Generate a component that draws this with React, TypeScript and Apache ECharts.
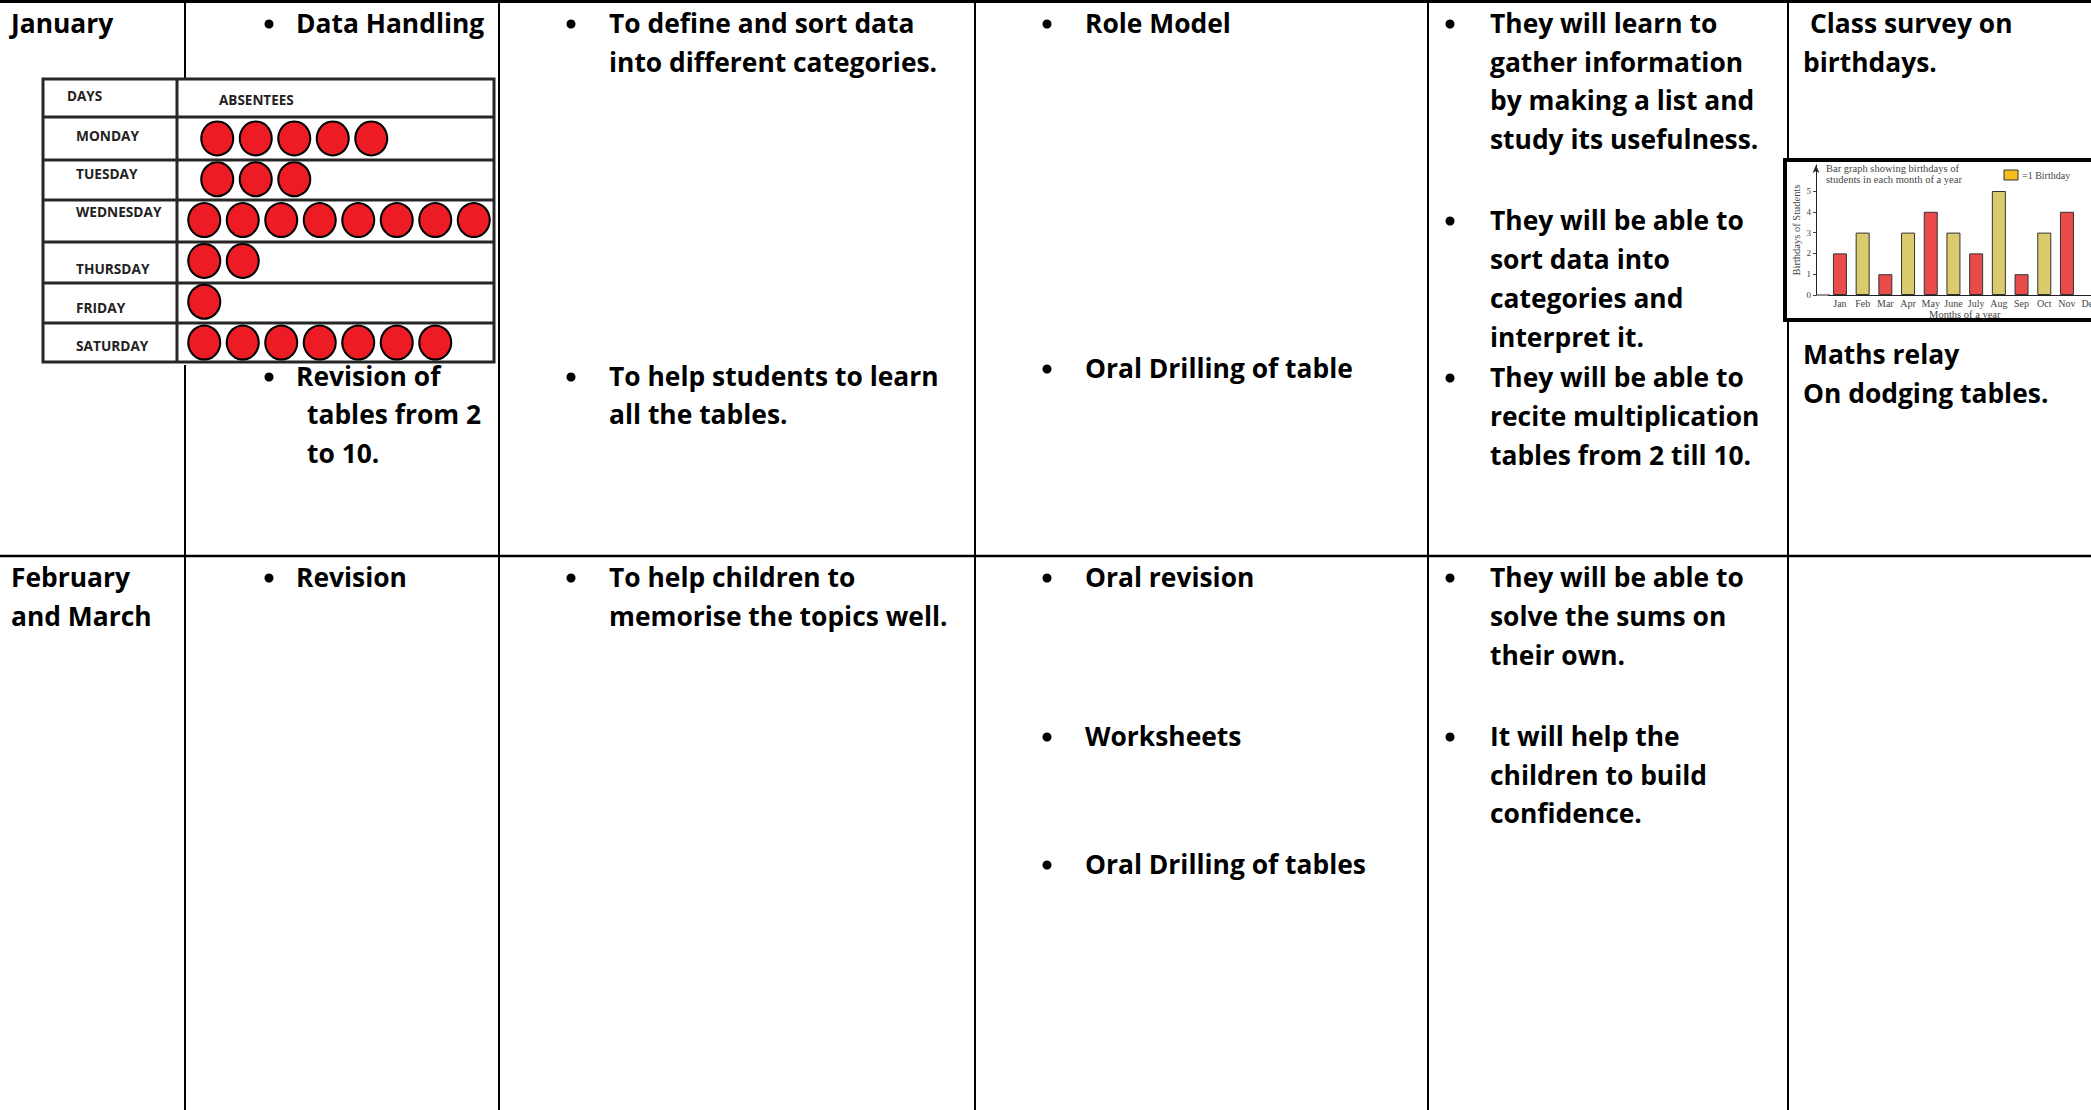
import React, { useEffect, useRef } from "react";
import * as echarts from "echarts";

// ---- pictograph data ----
const days = ["MONDAY", "TUESDAY", "WEDNESDAY", "THURSDAY", "FRIDAY", "SATURDAY"];
const absentees = [5, 3, 8, 2, 1, 7];

// ---- birthday bar graph data ----
const months = ["Jan", "Feb", "Mar", "Apr", "May", "June", "July", "Aug", "Sep", "Oct", "Nov", "Dec"];
const birthdays: (number | null)[] = [2, 3, 1, 3, 4, 3, 2, 5, 1, 3, 4, null];
const birthdayTicks = [0, 1, 2, 3, 4, 5];

const MAIN_FONT = "Open Sans";
const SERIF = "Liberation Serif";

function txt(x: number, y: number, text: string, opt: any = {}) {
  return {
    type: "text",
    z: 5,
    silent: true,
    style: {
      x,
      y,
      text,
      fill: opt.fill || "#000",
      fontFamily: opt.fontFamily || MAIN_FONT,
      fontWeight: opt.fontWeight || "bold",
      fontSize: opt.fontSize || 26.4,
      align: opt.align || "left",
      verticalAlign: "middle",
    },
  };
}

function bullet(x: number, y: number) {
  return { type: "circle", z: 5, silent: true, shape: { cx: x, cy: y + 1, r: 4.5 }, style: { fill: "#000" } };
}

function vline(x: number, y1: number, y2: number, w = 2, color = "#000", z = 0) {
  return { type: "line", z, silent: true, shape: { x1: x, y1, x2: x, y2 }, style: { stroke: color, lineWidth: w } };
}
function hline(y: number, x1: number, x2: number, w = 2, color = "#000", z = 0) {
  return { type: "line", z, silent: true, shape: { x1, y1: y, x2, y2: y }, style: { stroke: color, lineWidth: w } };
}

function buildTableGraphics() {
  const g: any[] = [];
  // table grid
  g.push(hline(1.5, 0, 2091, 3));
  g.push(hline(556, 0, 2091, 2.5));
  [185, 499, 975, 1428, 1788].forEach((x) => g.push(vline(x, 0, 1110, 2)));

  // backgrounds of embedded pictures
  g.push({ type: "rect", z: 1, silent: true, shape: { x: 40, y: 80, width: 458, height: 285 }, style: { fill: "#fff" } });
  g.push({
    type: "rect",
    z: 1,
    silent: true,
    shape: { x: 1785, y: 160, width: 330, height: 160 },
    style: { fill: "#fff", stroke: "#000", lineWidth: 4 },
  });

  // pictograph frame
  const fc = "#262626";
  g.push({ type: "rect", z: 3, silent: true, shape: { x: 43, y: 79, width: 451, height: 283 }, style: { fill: "none", stroke: fc, lineWidth: 3 } });
  g.push(vline(177, 79, 362, 3, fc, 3));
  [117, 160, 200, 242, 283, 323].forEach((y) => g.push(hline(y, 43, 494, 3, fc, 3)));
  g.push(txt(67, 96, "DAYS", { fontSize: 13.5, fill: "#222" }));
  g.push(txt(219, 100, "ABSENTEES", { fontSize: 13.5, fill: "#222" }));
  // day labels sit where they were typed in the original picture (not centred in rows)
  const dayLabelY = [135, 173, 211, 268, 307, 345];
  days.forEach((d, i) => g.push(txt(76, dayLabelY[i], d, { fontSize: 13.7, fill: "#222" })));

  // column 1
  g.push(txt(11, 23, "January"));
  g.push(txt(11, 577, "February"));
  g.push(txt(11, 616, "and March"));

  // column 2
  g.push(bullet(269, 23), txt(296, 23, "Data Handling"));
  g.push(bullet(269, 376), txt(296, 376, "Revision of"));
  g.push(txt(307, 414, "tables from 2"), txt(307, 453, "to 10."));
  g.push(bullet(269, 577), txt(296, 577, "Revision"));

  // column 3
  g.push(bullet(571, 23), txt(609, 23, "To define and sort data"), txt(609, 62, "into different categories."));
  g.push(bullet(571, 376), txt(609, 376, "To help students to learn"), txt(609, 414, "all the tables."));
  g.push(bullet(571, 577), txt(609, 577, "To help children to"), txt(609, 616, "memorise the topics well."));

  // column 4
  g.push(bullet(1047, 23), txt(1085, 23, "Role Model"));
  g.push(bullet(1047, 368), txt(1085, 368, "Oral Drilling of table"));
  g.push(bullet(1047, 577), txt(1085, 577, "Oral revision"));
  g.push(bullet(1047, 736), txt(1085, 736, "Worksheets"));
  g.push(bullet(1047, 864), txt(1085, 864, "Oral Drilling of tables"));

  // column 5
  g.push(bullet(1450, 23));
  ["They will learn to", "gather information", "by making a list and", "study its usefulness."].forEach((s, i) =>
    g.push(txt(1490, 23 + i * 38.7, s))
  );
  g.push(bullet(1450, 220));
  ["They will be able to", "sort data into", "categories and", "interpret it."].forEach((s, i) =>
    g.push(txt(1490, 220 + i * 39, s))
  );
  g.push(bullet(1450, 377));
  ["They will be able to", "recite multiplication", "tables from 2 till 10."].forEach((s, i) =>
    g.push(txt(1490, 377 + i * 39, s))
  );
  g.push(bullet(1450, 577));
  ["They will be able to", "solve the sums on", "their own."].forEach((s, i) => g.push(txt(1490, 577 + i * 39, s)));
  g.push(bullet(1450, 736));
  ["It will help the", "children to build", "confidence."].forEach((s, i) => g.push(txt(1490, 736 + i * 38.7, s)));

  // column 6
  g.push(txt(1810, 23, "Class survey on"));
  g.push(txt(1803, 62, "birthdays."));
  g.push(txt(1803, 354, "Maths relay"));
  g.push(txt(1803, 393, "On dodging tables."));

  // bar graph extras
  g.push(hline(295, 1816, 1830, 1, "#222", 3));
  g.push(txt(1826, 168, "Bar graph showing birthdays of", { fontFamily: SERIF, fontWeight: "normal", fontSize: 10.5, fill: "#444" }));
  g.push(txt(1826, 179, "students in each month of a year", { fontFamily: SERIF, fontWeight: "normal", fontSize: 10.5, fill: "#444" }));
  g.push({ type: "rect", z: 5, silent: true, shape: { x: 2004, y: 170, width: 14, height: 10 }, style: { fill: "#F6BE1E", stroke: "#333", lineWidth: 1 } });
  g.push(txt(2022, 175, "=1 Birthday", { fontFamily: SERIF, fontWeight: "normal", fontSize: 10, fill: "#444" }));
  return g;
}

export default function App() {
  const ref = useRef<HTMLDivElement>(null);
  useEffect(() => {
    if (!ref.current) return;
    const chart = echarts.init(ref.current, null, { renderer: "svg" });
    // Monday and Tuesday circles in the original start slightly further right
    const rowShift = (i: number) => (i < 2 ? 13 : 0);
    const pictoData = (absentees as number[]).map((v, i) => ({ value: v, symbolOffset: [rowShift(i), 0] }));
    const option: any = {
      animation: false,
      backgroundColor: "#fff",
      grid: [
        { left: 185, top: 118, width: 308, height: 245, outerBoundsMode: "none" },
        { left: 1828.6, top: 165, width: 272.4, height: 130, outerBoundsMode: "none" },
      ],
      xAxis: [
        { type: "value", gridIndex: 0, min: 0, max: 8, show: false },
        {
          type: "category",
          gridIndex: 1,
          data: months,
          z: 3,
          axisLine: { lineStyle: { color: "#222", width: 1 } },
          axisTick: { show: false },
          axisLabel: { fontFamily: SERIF, fontSize: 10, color: "#444", margin: 3, interval: 0 },
          name: "Months of a year",
          nameLocation: "middle",
          nameGap: 13,
          nameTextStyle: { fontFamily: SERIF, fontSize: 10.5, color: "#444" },
        },
      ],
      yAxis: [
        {
          type: "category",
          gridIndex: 0,
          data: days,
          inverse: true,
          show: false,
        },
        {
          type: "value",
          gridIndex: 1,
          min: 0,
          max: 6.25,
          interval: 1,
          offset: 12.6,
          z: 3,
          axisLine: { show: true, symbol: ["none", "arrow"], symbolSize: [5, 8], lineStyle: { color: "#222", width: 1 } },
          axisTick: { show: true, length: 3, customValues: birthdayTicks, lineStyle: { color: "#444" } },
          axisLabel: { customValues: birthdayTicks, fontFamily: SERIF, fontSize: 9, color: "#444", margin: 5 },
          splitLine: { show: false },
          name: "Birthdays of Students",
          nameLocation: "middle",
          nameGap: 14,
          nameRotate: 90,
          nameTextStyle: { fontFamily: SERIF, fontSize: 10.5, color: "#444" },
        },
      ],
      series: [
        {
          type: "pictorialBar",
          xAxisIndex: 0,
          yAxisIndex: 0,
          data: pictoData,
          symbol: "circle",
          symbolRepeat: true,
          symbolSize: [34, 36],
          symbolMargin: "2.25!",
          barGap: "-100%",
          z: 3,
          itemStyle: { color: "#000" },
        },
        {
          type: "pictorialBar",
          xAxisIndex: 0,
          yAxisIndex: 0,
          data: pictoData,
          symbol: "circle",
          symbolRepeat: true,
          symbolSize: [30, 32],
          symbolMargin: "4.25!",
          barGap: "-100%",
          z: 4,
          itemStyle: { color: "#ED1C24" },
        },
        {
          type: "bar",
          xAxisIndex: 1,
          yAxisIndex: 1,
          data: birthdays,
          barWidth: 14,
          z: 2,
          itemStyle: {
            color: (p: any) => (p.dataIndex % 2 === 0 ? "#E94B4B" : "#DCCB6C"),
            borderColor: "#333",
            borderWidth: 1,
          },
        },
      ],
      graphic: { elements: buildTableGraphics() },
    };
    chart.setOption(option);
    return () => chart.dispose();
  }, []);
  return (
    <div
      ref={ref}
      style={{ position: "fixed", left: 0, top: 0, width: 2091, height: 1110, background: "#fff" }}
    />
  );
}
